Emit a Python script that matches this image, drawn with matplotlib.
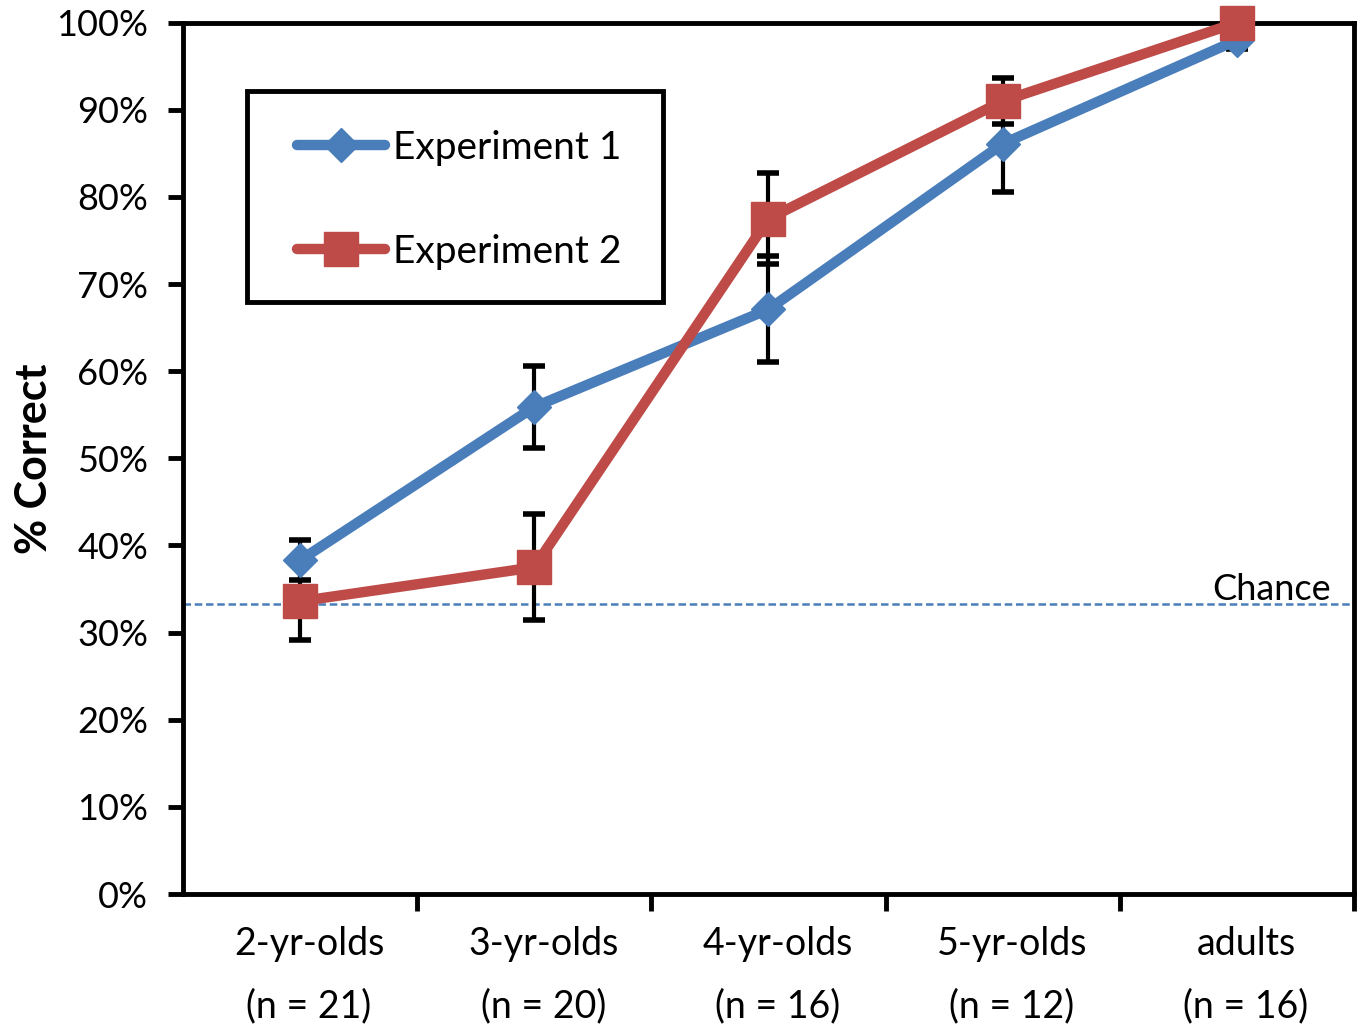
import matplotlib.pyplot as plt
import matplotlib.transforms as mtransforms
from matplotlib.patches import Rectangle
from matplotlib.ticker import FuncFormatter

# data
groups = ["2-yr-olds\n(n = 21)", "3-yr-olds\n(n = 20)", "4-yr-olds\n(n = 16)",
          "5-yr-olds\n(n = 12)", "adults\n(n = 16)"]
exp1 = [38.3, 55.9, 67.1, 86.1, 98.0]
exp1_err = [2.3, 4.7, 6.1, 5.5, 1.0]
exp2 = [33.6, 37.5, 77.5, 91.0, 100.0]
exp2_err = [4.5, 6.1, 5.2, 2.6, 0.0]
chance = 100 / 3

blue = "#4A7EBB"
red = "#BE4B48"

plt.rcParams["font.family"] = ["Lato", "DejaVu Sans"]

fig = plt.figure(figsize=(13.65, 10.3), dpi=100)
ax = fig.add_axes([0.134, 0.132, 0.858, 0.846])

x = list(range(1, len(groups) + 1))

# error bars first (behind lines)
ax.errorbar(x, exp1, yerr=exp1_err, fmt="none", ecolor="black",
            elinewidth=3, capsize=8, capthick=4, zorder=2)
ax.errorbar(x, exp2, yerr=exp2_err, fmt="none", ecolor="black",
            elinewidth=3, capsize=8, capthick=4, zorder=2)

ax.plot(x, exp1, color=blue, linewidth=7.5, marker="D", markersize=17,
        markeredgecolor=blue, label="Experiment 1", zorder=3,
        solid_capstyle="round", clip_on=False)
ax.plot(x, exp2, color=red, linewidth=7.5, marker="s", markersize=25,
        markeredgecolor=red, label="Experiment 2", zorder=4,
        solid_capstyle="round", clip_on=False)

# chance line
ax.axhline(chance, color=blue, linestyle=(0, (3, 1.5)), linewidth=1.8, zorder=1)
ax.text(5.5 - 0.1, chance - 0.3, "Chance", ha="right", va="bottom", fontsize=26)

ax.set_xlim(0.5, 5.5)
ax.set_ylim(0, 100)
ax.set_yticks(range(0, 101, 10))
ax.yaxis.set_major_formatter(FuncFormatter(lambda v, p: f"{int(v)}%"))
ax.tick_params(axis="y", labelsize=26, length=11, width=3.5, direction="out", pad=14)

# category labels between boundary ticks
ax.set_xticks([1.5, 2.5, 3.5, 4.5, 5.5])
ax.set_xticklabels([])
ax.set_xticks(x, minor=True)
ax.set_xticklabels(groups, minor=True, fontsize=27, linespacing=1.9)
ax.tick_params(axis="x", which="major", length=12, width=3.5, direction="out")
ax.tick_params(axis="x", which="minor", length=0, pad=23)
shift = mtransforms.ScaledTranslation(9 / 100, 0, fig.dpi_scale_trans)
for lab in ax.get_xticklabels(minor=True):
    lab.set_transform(lab.get_transform() + shift)

for s in ax.spines.values():
    s.set_linewidth(3.5)

ax.set_ylabel("% Correct", fontsize=31, fontweight="bold")
ax.yaxis.set_label_coords(-0.11, 0.5)

# legend: entries without frame, box drawn separately
leg = ax.legend(loc="center left", bbox_to_anchor=(0.0974, 0.797), fontsize=28,
                frameon=False, numpoints=1, handlelength=2.26,
                handletextpad=0.2, labelspacing=1.75, borderpad=0,
                borderaxespad=0)
leg.set_zorder(6)
ax.add_patch(Rectangle((0.0547, 0.679), 0.355, 0.2425, transform=ax.transAxes,
                       facecolor="white", edgecolor="black", linewidth=3.5,
                       zorder=5))

fig.savefig("out.png", dpi=100)
